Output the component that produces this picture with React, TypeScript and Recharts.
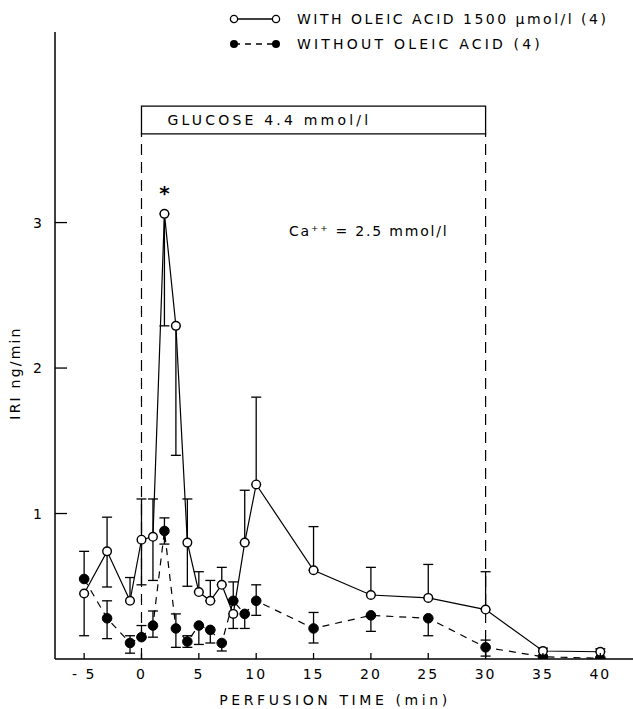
import React from 'react'
import {
  ComposedChart,
  Line,
  XAxis,
  YAxis,
  ErrorBar,
  ReferenceArea,
  ReferenceLine,
  ReferenceDot,
} from 'recharts'

// perfusion time (min)
const times = [-5, -3, -1, 0, 1, 2, 3, 4, 5, 6, 7, 8, 9, 10, 15, 20, 25, 30, 35, 40]

// IRI ng/min, with oleic acid 1500 umol/l (open circles)
const withOleic = [0.45, 0.74, 0.4, 0.82, 0.84, 3.06, 2.29, 0.8, 0.46, 0.4, 0.51, 0.31, 0.8, 1.2, 0.61, 0.44, 0.42, 0.34, 0.055, 0.05]
// [down, up] error lengths
const withOleicErr = [
  [0.29, 0], [0.245, 0.235], [0, 0.16], [0.31, 0.28], [0.3, 0.26], [0.77, 0], [0.89, 0], [0.3, 0.3],
  [0, 0.14], [0, 0.14], [0, 0.12], [0.1, 0], [0, 0.36], [0, 0.6], [0, 0.3], [0, 0.19], [0, 0.23],
  [0, 0.26], [0, 0.02], [0, 0.02],
]

// IRI ng/min, without oleic acid (filled circles)
const withoutOleic = [0.55, 0.28, 0.11, 0.15, 0.23, 0.88, 0.21, 0.12, 0.23, 0.2, 0.11, 0.4, 0.31, 0.4, 0.21, 0.3, 0.28, 0.08, 0.015, 0.005]
const withoutOleicErr = [
  [0, 0.19], [0.14, 0.12], [0.07, 0.05], [0, 0.08], [0.08, 0.1], [0.09, 0.09], [0.13, 0.1], [0.04, 0.04],
  [0.13, 0], [0.09, 0], [0.055, 0], [0, 0.13], [0.1, 0], [0.1, 0.11], [0.1, 0.11], [0.11, 0], [0.12, 0],
  [0.06, 0.05], [0, 0], [0, 0],
]

const xTicks = [-5, 0, 5, 10, 15, 20, 25, 30, 35, 40]
const yTicks = [1, 2, 3]

const FONT = '"DejaVu Sans", sans-serif'
const W = 633
const H = 709
const AXIS_LEFT = 55
const AXIS_BOTTOM = 659

const data = times.map((t, i) => ({
  time: t,
  withOleic: withOleic[i],
  withOleicErr: withOleicErr[i],
  withoutOleic: withoutOleic[i],
  withoutOleicErr: withoutOleicErr[i],
}))

const XTick = (props: any) => {
  const { x, payload } = props
  const v = payload.value
  const text = v < 0 ? `- ${Math.abs(v)}` : `${v}`
  return (
    <g>
      <line x1={x} x2={x} y1={AXIS_BOTTOM} y2={AXIS_BOTTOM - 6} stroke="#000" strokeWidth={1.3} />
      <text x={x} y={AXIS_BOTTOM + 20} textAnchor="middle" fontFamily={FONT} fontSize={14} letterSpacing={2} fill="#000">
        {text}
      </text>
    </g>
  )
}

const YTick = (props: any) => {
  const { y, payload } = props
  return (
    <g>
      <line x1={AXIS_LEFT} x2={AXIS_LEFT + 12} y1={y} y2={y} stroke="#000" strokeWidth={1.3} />
      <text x={AXIS_LEFT - 13} y={y + 5} textAnchor="end" fontFamily={FONT} fontSize={14} fill="#000">
        {payload.value}
      </text>
    </g>
  )
}

const OpenDot = (props: any) => {
  const { cx, cy } = props
  if (cx == null || cy == null) return null
  return <circle cx={cx} cy={cy} r={4.3} fill="#fff" stroke="#000" strokeWidth={1.4} />
}

const FilledDot = (props: any) => {
  const { cx, cy } = props
  if (cx == null || cy == null) return null
  return <circle cx={cx} cy={cy} r={4.8} fill="#000" stroke="#000" strokeWidth={1} />
}

const Legend = () => (
  <div style={{ position: 'absolute', left: 228, top: 6, fontFamily: FONT, fontSize: 14, letterSpacing: 2.5, color: '#000', whiteSpace: 'nowrap' }}>
    <div style={{ display: 'flex', alignItems: 'center', height: 25 }}>
      <svg width={60} height={14}>
        <line x1={6} x2={48} y1={7} y2={7} stroke="#000" strokeWidth={1.3} />
        <circle cx={6} cy={7} r={3.6} fill="#fff" stroke="#000" strokeWidth={1.3} />
        <circle cx={48} cy={7} r={3.6} fill="#fff" stroke="#000" strokeWidth={1.3} />
      </svg>
      <span style={{ marginLeft: 9 }}>WITH OLEIC ACID 1500 µmol/l (4)</span>
    </div>
    <div style={{ display: 'flex', alignItems: 'center', height: 25 }}>
      <svg width={60} height={14}>
        <line x1={6} x2={48} y1={7} y2={7} stroke="#000" strokeWidth={1.3} strokeDasharray="6 5" />
        <circle cx={6} cy={7} r={4} fill="#000" />
        <circle cx={48} cy={7} r={4} fill="#000" />
      </svg>
      <span style={{ marginLeft: 9, letterSpacing: 3.2 }}>WITHOUT OLEIC ACID (4)</span>
    </div>
  </div>
)

export default function App() {
  return (
    <div style={{ position: 'absolute', left: 0, top: 0, width: W, height: H, background: '#fff' }}>
      <ComposedChart width={W} height={H} data={data} margin={{ top: 32, right: 0, bottom: 0, left: AXIS_LEFT - 1 }}>
        <XAxis
          dataKey="time"
          type="number"
          domain={[-7.54, 42.85]}
          ticks={xTicks}
          allowDataOverflow
          height={50}
          tickSize={0}
          tickMargin={0}
          tickLine={false}
          tick={<XTick />}
          axisLine={{ stroke: '#000', strokeWidth: 1.5 }}
          label={{
            content: () => (
              <text x={335} y={AXIS_BOTTOM + 46} textAnchor="middle" fontFamily={FONT} fontSize={14} letterSpacing={3.6} fill="#000">
                PERFUSION TIME (min)
              </text>
            ),
          }}
        />
        <YAxis
          type="number"
          domain={[0, 4.31]}
          ticks={yTicks}
          allowDataOverflow
          width={1}
          tickSize={0}
          tickMargin={0}
          tickLine={false}
          tick={<YTick />}
          axisLine={{ stroke: '#000', strokeWidth: 1.5 }}
          label={{
            content: () => (
              <text
                x={20}
                y={373}
                transform="rotate(-90 20 373)"
                textAnchor="middle"
                fontFamily={FONT}
                fontSize={14}
                letterSpacing={2.2}
                fill="#000"
              >
                IRI ng/min
              </text>
            ),
          }}
        />

        <ReferenceLine segment={[{ x: 0, y: 0 }, { x: 0, y: 3.61 }]} stroke="#000" strokeWidth={1.2} strokeDasharray="11 7" />
        <ReferenceLine segment={[{ x: 30, y: 0 }, { x: 30, y: 3.61 }]} stroke="#000" strokeWidth={1.2} strokeDasharray="11 7" />
        <ReferenceArea
          x1={0}
          x2={30}
          y1={3.61}
          y2={3.8}
          fill="#fff"
          fillOpacity={1}
          stroke="#000"
          strokeWidth={1.3}
          label={{
            content: (p: any) => {
              const vb = p.viewBox
              return (
                <text x={vb.x + 26} y={vb.y + vb.height / 2 + 5} fontFamily={FONT} fontSize={14} letterSpacing={3.2} fill="#000">
                  GLUCOSE  4.4 mmol/l
                </text>
              )
            },
          }}
        />
        <ReferenceDot
          x={2}
          y={3.24}
          r={0}
          label={{
            content: (p: any) => {
              const vb = p.viewBox
              return (
                <text x={vb.x} y={vb.y + 12} textAnchor="middle" fontFamily={FONT} fontSize={20} fontWeight="bold" fill="#000">
                  *
                </text>
              )
            },
          }}
        />
        <ReferenceDot
          x={12.86}
          y={2.91}
          r={0}
          label={{
            content: (p: any) => {
              const vb = p.viewBox
              return (
                <text x={vb.x} y={vb.y} fontFamily={FONT} fontSize={14} letterSpacing={1.8} fill="#000">
                  Ca⁺⁺ = 2.5 mmol/l
                </text>
              )
            },
          }}
        />

        <Line
          dataKey="withoutOleic"
          stroke="#000"
          strokeWidth={1.2}
          strokeDasharray="7 6"
          dot={<FilledDot />}
          activeDot={false}
          isAnimationActive={false}
        >
          <ErrorBar dataKey="withoutOleicErr" width={5} stroke="#000" strokeWidth={1.3} isAnimationActive={false} />
        </Line>
        <Line
          dataKey="withOleic"
          stroke="#000"
          strokeWidth={1.2}
          dot={<OpenDot />}
          activeDot={false}
          isAnimationActive={false}
        >
          <ErrorBar dataKey="withOleicErr" width={5} stroke="#000" strokeWidth={1.3} isAnimationActive={false} />
        </Line>
      </ComposedChart>
      <Legend />
    </div>
  )
}
